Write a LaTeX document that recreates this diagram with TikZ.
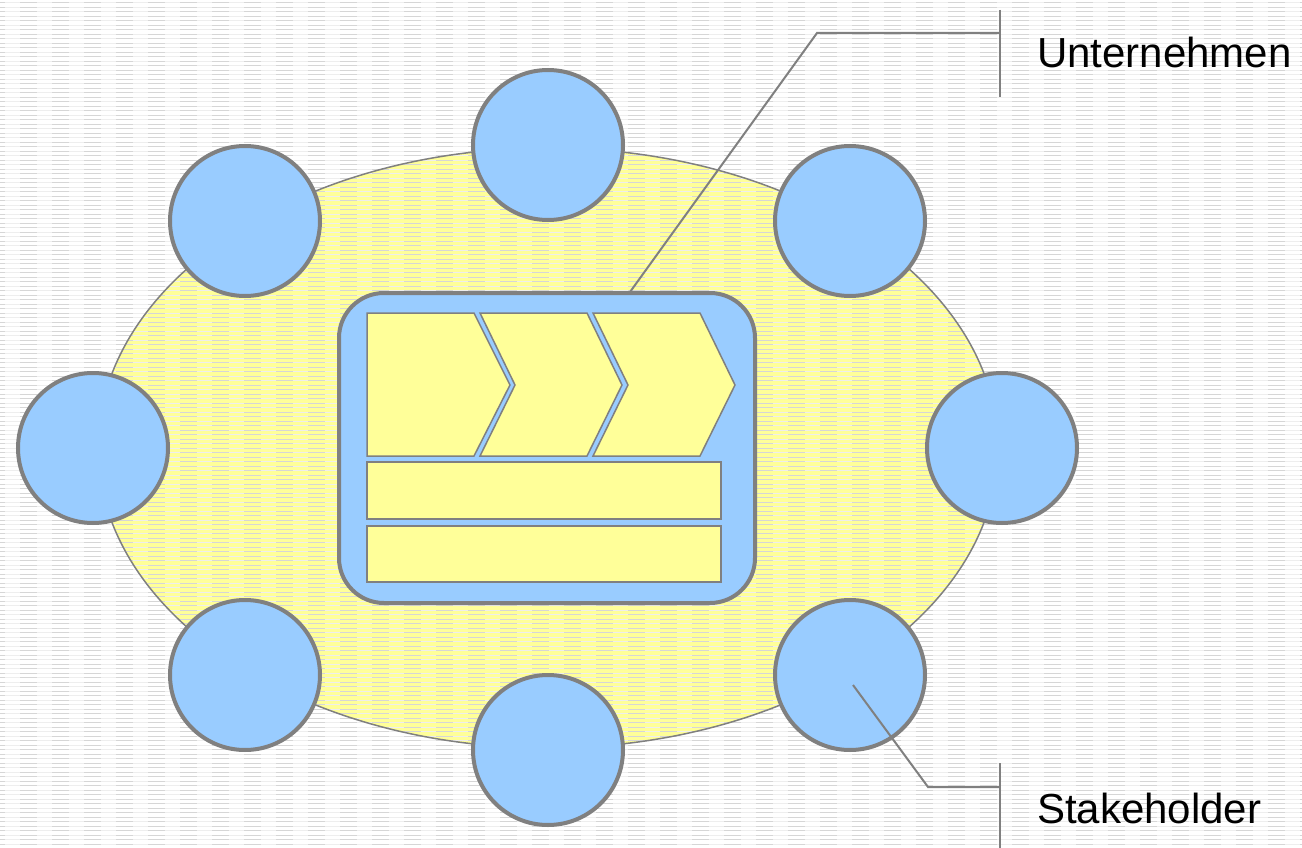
\documentclass[tikz,border=0pt]{standalone}
\usepackage{fontspec}
\setmainfont{Liberation Sans}
\usetikzlibrary{shapes.geometric}
\definecolor{sky}{HTML}{99CCFF}
\definecolor{pale}{HTML}{FFFF99}
\definecolor{edge}{HTML}{808080}
\definecolor{bgdark}{HTML}{D6D6D6}
\definecolor{bglight}{HTML}{EEEEEE}
\tikzset{
  stake/.style={circle, draw=edge, line width=4pt, fill=sky, minimum size=150pt, inner sep=0pt},
  corp/.style={rectangle, draw=edge, line width=4pt, fill=sky, rounded corners=45pt, minimum width=416pt, minimum height=310pt, inner sep=0pt},
  field/.style={ellipse, draw=edge, line width=1.5pt, fill=pale, minimum width=900pt, minimum height=600pt, inner sep=0pt},
  proc/.style={draw=edge, line width=1.5pt, fill=pale, line join=miter},
  callout/.style={draw=edge, line width=2pt},
  label/.style={anchor=base west, inner sep=0pt, font=\fontsize{42}{50}\selectfont},
  bglinelight/.style={draw=bglight, line width=0.8pt},
  bglinedark/.style={draw=bgdark, line width=1pt, dash pattern=on 17pt off 15pt, dash phase=12pt},
}
\begin{document}
\begin{tikzpicture}[x=1pt, y=-1pt]
\useasboundingbox (0,0) rectangle (1302,848);
\fill[white] (0,0) rectangle (1302,848);
% yellow field
\node[field, draw=none] (field) at (548,448) {};
% background line pattern
\foreach \i in {0,...,188} {
  \draw[bglinelight] (0,{2.7+\i*4.5}) -- (1302,{2.7+\i*4.5});
  \draw[bglinedark] (0,{2.7+\i*4.5}) -- (1302,{2.7+\i*4.5});
}
\node[field, fill=none] (fieldedge) at (548,448) {};
% stakeholders
\node[stake] (s1) at (548,145) {};
\node[stake] (s2) at (245,221) {};
\node[stake] (s3) at (850,221) {};
\node[stake] (s4) at (93,448) {};
\node[stake] (s5) at (1002,448) {};
\node[stake] (s6) at (245,675) {};
\node[stake] (s7) at (850,675) {};
\node[stake] (s8) at (548,750) {};
% company
\node[corp] (corp) at (547,448) {};
\draw[proc] (367,313) -- (474,313) -- (510,385) -- (474,456) -- (367,456) -- cycle;
\draw[proc] (480,313) -- (587,313) -- (622,385) -- (587,456) -- (480,456) -- (515,385) -- cycle;
\draw[proc] (593,313) -- (700,313) -- (735,385) -- (700,456) -- (593,456) -- (628,385) -- cycle;
\draw[proc] (367,462) rectangle (721,519);
\draw[proc] (367,526) rectangle (721,582);
% callouts
\coordinate (cu) at (630,292);
\coordinate (cuk) at (817,33);
\coordinate (cuh) at (1000,33);
\draw[callout] (1000,10) -- (1000,97);
\draw[callout] (cu) -- (cuk) -- (cuh);
\node[label] (tu) at (1037,68) {Unternehmen};
\coordinate (cs) at ([shift={(3pt,-10pt)}]s7.center);
\coordinate (csk) at (928,787);
\coordinate (csh) at (1000,787);
\draw[callout] (1000,763) -- (1000,848);
\draw[callout] (cs) -- (csk) -- (csh);
\node[label] (ts) at (1037,823) {Stakeholder};
\end{tikzpicture}
\end{document}
